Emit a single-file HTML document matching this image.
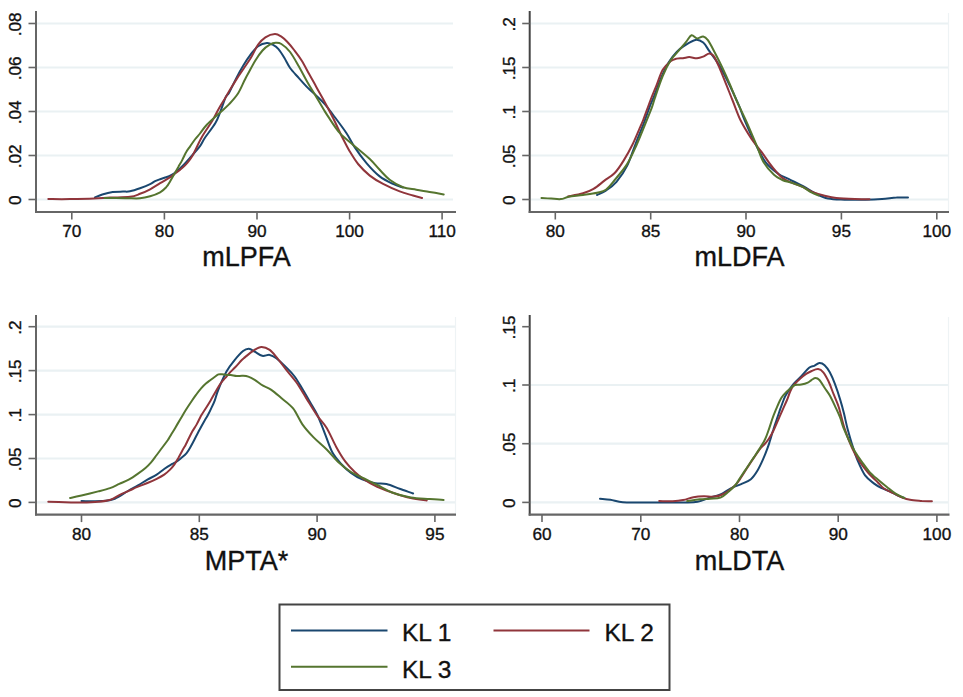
<!DOCTYPE html>
<html><head><meta charset="utf-8"><title>Density plots</title>
<style>
html,body{margin:0;padding:0;background:#fff;}
body{width:963px;height:697px;overflow:hidden;}
svg{display:block;font-family:"Liberation Sans", sans-serif;fill:#000;}
svg text{fill:#111;stroke:#111;stroke-width:0.35px;}
</style></head><body>
<svg width="963" height="697" viewBox="0 0 963 697">
<rect width="963" height="697" fill="#fff"/>
<line x1="37.0" y1="23.5" x2="453.0" y2="23.5" stroke="#eaf1f3" stroke-width="2.2"/>
<line x1="37.0" y1="67.5" x2="453.0" y2="67.5" stroke="#eaf1f3" stroke-width="2.2"/>
<line x1="37.0" y1="111.5" x2="453.0" y2="111.5" stroke="#eaf1f3" stroke-width="2.2"/>
<line x1="37.0" y1="155.5" x2="453.0" y2="155.5" stroke="#eaf1f3" stroke-width="2.2"/>
<line x1="37.0" y1="199.5" x2="453.0" y2="199.5" stroke="#eaf1f3" stroke-width="2.2"/>
<path d="M95.0,197.5 C96.2,197.0 99.3,195.4 102.3,194.5 C105.2,193.6 109.2,192.5 112.7,192.0 C116.2,191.5 120.1,191.7 123.0,191.6 C125.9,191.5 127.2,191.9 130.0,191.3 C132.8,190.8 136.7,189.5 140.0,188.3 C143.3,187.1 147.6,185.4 150.1,184.2 C152.6,183.0 153.4,182.0 155.1,181.2 C156.8,180.4 158.2,179.9 160.1,179.2 C161.9,178.5 164.5,177.8 166.2,177.2 C167.9,176.6 168.9,176.4 170.2,175.7 C171.5,175.0 172.5,174.4 174.2,173.2 C175.9,171.9 178.2,170.0 180.2,168.2 C182.2,166.3 184.2,164.3 186.2,162.1 C188.2,159.9 190.0,157.8 192.3,155.1 C194.6,152.4 197.9,149.0 200.0,146.1 C202.1,143.2 202.5,141.3 205.1,137.5 C207.7,133.7 212.8,127.4 215.4,123.0 C218.0,118.6 218.9,115.3 220.6,111.0 C222.3,106.7 224.3,100.2 225.7,97.2 C227.1,94.2 227.3,95.9 229.1,92.7 C230.9,89.5 233.9,82.7 236.3,78.1 C238.7,73.5 241.2,69.1 243.6,65.1 C246.0,61.1 248.5,57.4 250.9,54.2 C253.3,51.1 255.4,48.1 258.1,46.2 C260.8,44.3 264.5,43.2 266.9,43.0 C269.3,42.8 270.8,43.7 272.7,44.7 C274.6,45.7 276.6,46.9 278.5,49.1 C280.4,51.3 282.4,54.6 284.3,57.8 C286.2,60.9 287.7,64.6 290.1,68.0 C292.5,71.4 296.0,74.8 298.9,78.1 C301.8,81.4 304.7,84.7 307.6,87.6 C310.5,90.5 313.4,92.8 316.3,95.6 C319.2,98.4 322.2,101.1 325.0,104.3 C327.8,107.5 329.6,110.2 333.2,115.0 C336.8,119.8 342.9,127.8 346.5,133.2 C350.1,138.6 351.5,142.4 354.8,147.4 C358.1,152.4 362.4,158.3 366.5,163.1 C370.6,167.9 375.3,172.9 379.7,176.4 C384.1,179.9 389.1,182.1 393.0,183.9 C396.9,185.8 401.3,186.9 403.0,187.5" fill="none" stroke="#1a476f" stroke-width="2.0" stroke-linejoin="round" stroke-linecap="round"/>
<path d="M48.3,199.1 C51.9,199.1 62.4,199.2 70.0,199.1 C77.6,199.0 87.3,198.8 94.0,198.5 C100.7,198.2 104.0,197.9 110.0,197.6 C116.0,197.3 125.0,197.4 130.0,196.8 C135.0,196.2 136.7,195.1 140.0,193.8 C143.3,192.6 146.8,191.1 150.1,189.3 C153.4,187.5 156.8,185.2 160.1,183.2 C163.4,181.2 167.8,178.7 170.2,177.2 C172.5,175.7 172.5,175.4 174.2,174.2 C175.9,172.9 178.2,171.4 180.2,169.7 C182.2,168.0 184.2,166.4 186.2,164.1 C188.2,161.8 189.7,160.4 192.3,156.0 C194.9,151.6 198.3,143.3 201.6,137.5 C204.9,131.7 209.1,126.1 212.0,121.3 C214.9,116.5 216.6,112.4 218.9,108.4 C221.2,104.4 224.0,100.1 225.7,97.2 C227.4,94.3 227.3,94.1 229.1,91.2 C230.9,88.3 233.9,83.3 236.3,79.6 C238.7,75.8 241.2,72.3 243.6,68.7 C246.0,65.1 248.5,61.8 250.9,57.8 C253.3,53.8 255.7,48.1 258.1,44.7 C260.5,41.3 262.6,39.2 265.4,37.4 C268.2,35.6 272.2,34.2 274.9,34.1 C277.6,34.0 279.3,35.4 281.4,36.7 C283.4,38.0 285.0,39.5 287.2,41.8 C289.4,44.1 292.1,47.4 294.5,50.5 C296.9,53.6 299.4,56.8 301.8,60.7 C304.2,64.6 306.6,69.4 309.0,73.8 C311.4,78.2 313.9,82.5 316.3,86.9 C318.7,91.3 320.8,94.8 323.6,100.0 C326.4,105.2 330.2,112.3 333.2,118.3 C336.2,124.2 338.7,130.2 341.5,135.7 C344.3,141.2 347.0,146.8 349.8,151.5 C352.6,156.2 354.8,160.0 358.1,164.0 C361.4,168.0 365.6,172.3 369.8,175.6 C374.0,178.9 378.1,181.3 383.1,183.9 C388.1,186.5 394.7,189.5 399.7,191.4 C404.7,193.3 409.3,194.4 413.0,195.5 C416.7,196.6 420.6,197.6 422.1,198.0" fill="none" stroke="#90353b" stroke-width="2.0" stroke-linejoin="round" stroke-linecap="round"/>
<path d="M104.4,198.0 C107.8,198.0 119.1,198.1 125.0,198.2 C130.9,198.2 135.8,198.6 140.0,198.3 C144.2,198.0 146.8,197.3 150.1,196.3 C153.4,195.3 157.4,193.8 160.1,192.3 C162.8,190.8 164.5,189.0 166.2,187.2 C167.9,185.3 168.9,183.4 170.2,181.2 C171.5,179.0 172.9,176.5 174.2,174.2 C175.5,171.9 176.9,169.5 178.2,167.2 C179.5,164.8 180.9,162.6 182.2,160.1 C183.5,157.6 184.8,154.4 186.2,152.1 C187.5,149.8 188.8,148.3 190.3,146.1 C191.8,143.9 193.7,141.1 195.3,139.0 C196.9,136.9 198.1,135.9 200.0,133.5 C201.9,131.1 203.7,128.1 206.8,124.8 C210.0,121.5 215.2,117.0 218.9,113.6 C222.6,110.1 226.0,107.4 229.2,104.1 C232.3,100.8 235.2,97.8 237.8,93.8 C240.4,89.8 243.0,83.3 244.7,80.0 C246.4,76.7 246.2,77.0 248.0,73.8 C249.8,70.6 252.8,64.6 255.2,60.7 C257.6,56.8 260.1,53.2 262.5,50.5 C264.9,47.8 267.6,46.0 269.8,44.7 C272.0,43.4 273.7,42.9 275.6,42.8 C277.5,42.7 279.0,42.5 281.4,44.0 C283.8,45.5 287.2,48.2 290.1,52.0 C293.0,55.8 296.0,61.4 298.9,66.5 C301.8,71.6 304.7,77.4 307.6,82.5 C310.5,87.6 313.6,92.4 316.3,97.0 C319.0,101.6 322.0,106.7 324.0,110.0 C326.0,113.3 325.6,112.7 328.2,116.6 C330.8,120.5 335.7,128.5 339.9,133.2 C344.1,137.9 348.2,140.6 353.2,144.9 C358.2,149.2 365.4,154.8 369.8,159.0 C374.2,163.2 376.4,166.4 379.7,169.8 C383.0,173.2 385.8,176.8 389.7,179.7 C393.6,182.6 398.6,185.5 403.0,187.2 C407.4,188.9 411.9,188.9 416.3,189.7 C420.7,190.5 425.0,191.1 429.6,191.9 C434.2,192.7 441.4,194.0 443.7,194.4" fill="none" stroke="#55752f" stroke-width="2.0" stroke-linejoin="round" stroke-linecap="round"/>
<line x1="36.0" y1="11.0" x2="36.0" y2="213.0" stroke="#666" stroke-width="2"/>
<line x1="35.0" y1="212.0" x2="456.0" y2="212.0" stroke="#666" stroke-width="2.2"/>
<line x1="28.5" y1="23.5" x2="36.0" y2="23.5" stroke="#666" stroke-width="1.6"/>
<text x="0" y="0" transform="translate(21.2,24.3) rotate(-90)" text-anchor="middle" font-size="17.2">.08</text>
<line x1="28.5" y1="67.5" x2="36.0" y2="67.5" stroke="#666" stroke-width="1.6"/>
<text x="0" y="0" transform="translate(21.2,68.3) rotate(-90)" text-anchor="middle" font-size="17.2">.06</text>
<line x1="28.5" y1="111.5" x2="36.0" y2="111.5" stroke="#666" stroke-width="1.6"/>
<text x="0" y="0" transform="translate(21.2,112.3) rotate(-90)" text-anchor="middle" font-size="17.2">.04</text>
<line x1="28.5" y1="155.5" x2="36.0" y2="155.5" stroke="#666" stroke-width="1.6"/>
<text x="0" y="0" transform="translate(21.2,156.3) rotate(-90)" text-anchor="middle" font-size="17.2">.02</text>
<line x1="28.5" y1="199.5" x2="36.0" y2="199.5" stroke="#666" stroke-width="1.6"/>
<text x="0" y="0" transform="translate(21.2,200.3) rotate(-90)" text-anchor="middle" font-size="17.2">0</text>
<line x1="71.8" y1="212.0" x2="71.8" y2="219.5" stroke="#666" stroke-width="1.6"/>
<text x="71.8" y="237.4" text-anchor="middle" font-size="17.2">70</text>
<line x1="164.4" y1="212.0" x2="164.4" y2="219.5" stroke="#666" stroke-width="1.6"/>
<text x="164.4" y="237.4" text-anchor="middle" font-size="17.2">80</text>
<line x1="257.0" y1="212.0" x2="257.0" y2="219.5" stroke="#666" stroke-width="1.6"/>
<text x="257.0" y="237.4" text-anchor="middle" font-size="17.2">90</text>
<line x1="349.6" y1="212.0" x2="349.6" y2="219.5" stroke="#666" stroke-width="1.6"/>
<text x="349.6" y="237.4" text-anchor="middle" font-size="17.2">100</text>
<line x1="442.1" y1="212.0" x2="442.1" y2="219.5" stroke="#666" stroke-width="1.6"/>
<text x="442.1" y="237.4" text-anchor="middle" font-size="17.2">110</text>
<text x="246.5" y="266.3" text-anchor="middle" font-size="27.0">mLPFA</text>
<line x1="530.7" y1="23.5" x2="948.0" y2="23.5" stroke="#eaf1f3" stroke-width="2.2"/>
<line x1="530.7" y1="67.5" x2="948.0" y2="67.5" stroke="#eaf1f3" stroke-width="2.2"/>
<line x1="530.7" y1="111.5" x2="948.0" y2="111.5" stroke="#eaf1f3" stroke-width="2.2"/>
<line x1="530.7" y1="155.5" x2="948.0" y2="155.5" stroke="#eaf1f3" stroke-width="2.2"/>
<line x1="530.7" y1="199.5" x2="948.0" y2="199.5" stroke="#eaf1f3" stroke-width="2.2"/>
<line x1="948.5" y1="13.0" x2="948.5" y2="211.0" stroke="#eef3f5" stroke-width="1.2"/>
<path d="M597.1,195.0 C598.6,194.3 602.7,192.8 605.9,190.6 C609.1,188.4 613.0,185.9 616.5,181.8 C620.0,177.7 623.9,172.4 627.1,165.9 C630.3,159.4 633.2,149.8 635.9,143.0 C638.5,136.2 640.6,131.5 643.0,125.3 C645.4,119.1 648.3,110.5 650.0,105.9 C651.7,101.3 651.5,102.6 653.4,97.9 C655.3,93.2 658.6,83.6 661.2,77.6 C663.8,71.6 666.3,66.4 668.9,62.1 C671.5,57.8 674.1,54.6 676.7,51.9 C679.3,49.2 681.4,47.7 684.5,45.7 C687.6,43.7 692.3,40.4 695.4,39.9 C698.5,39.4 700.9,40.7 703.2,42.6 C705.5,44.5 707.1,48.0 709.4,51.2 C711.7,54.5 714.9,58.5 717.2,62.1 C719.6,65.7 721.2,68.6 723.5,73.0 C725.8,77.4 728.6,83.0 731.2,88.5 C733.8,94.0 736.7,100.3 739.0,105.7 C741.3,111.1 742.2,114.5 744.9,120.8 C747.6,127.1 751.8,136.7 755.3,143.6 C758.8,150.5 761.9,157.3 765.7,162.3 C769.5,167.3 774.4,170.9 778.2,173.7 C782.0,176.5 784.4,176.8 788.5,178.9 C792.6,181.0 798.6,183.8 803.1,186.2 C807.6,188.6 811.4,191.4 815.5,193.5 C819.6,195.6 823.1,197.6 828.0,198.6 C832.9,199.6 838.4,199.5 844.6,199.7 C850.8,199.9 859.2,199.8 865.4,199.7 C871.6,199.6 876.8,199.4 882.0,199.1 C887.2,198.8 892.2,197.8 896.5,197.6 C900.8,197.3 906.1,197.6 908.0,197.6" fill="none" stroke="#1a476f" stroke-width="2.0" stroke-linejoin="round" stroke-linecap="round"/>
<path d="M568.0,196.4 C570.5,195.9 578.8,194.6 583.0,193.3 C587.2,192.1 590.0,191.0 593.5,188.9 C597.0,186.8 600.6,183.6 604.1,180.9 C607.6,178.2 611.5,176.4 614.7,173.0 C618.0,169.6 620.7,165.3 623.6,160.6 C626.5,155.9 629.8,150.0 632.4,144.7 C635.0,139.4 637.6,132.9 639.4,128.8 C641.2,124.7 641.4,124.6 643.2,120.0 C645.0,115.4 648.0,106.8 650.2,101.0 C652.4,95.2 654.4,90.6 656.5,85.4 C658.6,80.2 660.4,73.8 662.7,69.8 C665.0,65.8 668.2,63.2 670.5,61.3 C672.8,59.4 674.6,59.1 676.7,58.6 C678.8,58.1 680.9,58.5 683.0,58.2 C685.1,58.0 686.9,57.1 689.2,57.1 C691.5,57.1 694.7,58.3 697.0,58.2 C699.3,58.1 701.1,57.4 703.2,56.6 C705.3,55.8 707.6,53.5 709.4,53.5 C711.2,53.5 712.3,53.9 714.1,56.6 C715.9,59.3 718.2,65.0 720.3,69.8 C722.4,74.6 724.5,80.2 726.6,85.4 C728.7,90.6 730.4,95.1 732.8,101.0 C735.2,106.9 737.7,114.6 740.8,120.8 C743.9,127.0 747.8,133.2 751.2,138.4 C754.7,143.6 758.0,147.2 761.5,151.9 C765.0,156.6 768.4,162.2 771.9,166.5 C775.4,170.8 778.8,175.1 782.3,177.9 C785.8,180.7 789.2,181.6 792.7,183.1 C796.2,184.6 799.6,185.6 803.1,187.2 C806.6,188.8 810.0,191.0 813.5,192.4 C817.0,193.8 820.0,194.6 823.8,195.5 C827.6,196.4 831.1,197.4 836.3,198.0 C841.5,198.6 849.5,198.9 855.0,199.1 C860.5,199.3 867.1,199.3 869.5,199.3" fill="none" stroke="#90353b" stroke-width="2.0" stroke-linejoin="round" stroke-linecap="round"/>
<path d="M541.5,198.0 C543.1,198.1 548.0,198.4 551.2,198.6 C554.4,198.8 558.0,199.4 560.9,199.1 C563.8,198.8 565.1,197.5 568.8,196.8 C572.5,196.1 578.3,195.7 583.0,195.0 C587.7,194.3 593.3,193.6 597.1,192.7 C600.9,191.8 603.0,191.8 605.9,189.7 C608.8,187.6 611.2,184.3 614.7,180.0 C618.2,175.7 623.6,169.7 627.1,164.1 C630.6,158.5 633.0,153.0 635.9,146.5 C638.8,140.0 642.1,131.8 644.7,125.3 C647.4,118.8 650.1,112.3 651.8,107.7 C653.5,103.1 653.1,103.2 654.9,97.9 C656.7,92.6 660.1,82.3 662.7,76.1 C665.3,69.9 667.9,64.7 670.5,60.5 C673.1,56.4 675.7,54.3 678.3,51.2 C680.9,48.1 683.9,44.4 686.1,41.8 C688.3,39.1 689.7,35.9 691.5,35.3 C693.3,34.7 695.0,38.2 697.0,38.4 C699.0,38.6 701.4,36.1 703.2,36.4 C705.0,36.7 706.1,37.7 707.9,40.2 C709.7,42.7 711.8,46.8 714.1,51.2 C716.4,55.6 719.3,61.2 721.9,66.7 C724.5,72.2 727.1,77.9 729.7,83.9 C732.3,89.9 734.6,96.1 737.5,102.6 C740.4,109.1 743.9,115.8 747.0,122.8 C750.1,129.8 753.5,138.0 756.3,144.6 C759.1,151.2 760.6,157.3 763.6,162.3 C766.6,167.3 770.9,171.9 774.0,174.8 C777.1,177.8 779.2,178.6 782.3,180.0 C785.4,181.4 789.2,181.9 792.7,183.1 C796.2,184.3 800.0,185.6 803.1,187.2 C806.2,188.8 808.8,191.0 811.4,192.4 C814.0,193.8 817.4,195.0 818.6,195.5" fill="none" stroke="#55752f" stroke-width="2.0" stroke-linejoin="round" stroke-linecap="round"/>
<line x1="529.7" y1="11.0" x2="529.7" y2="213.0" stroke="#444" stroke-width="2"/>
<line x1="528.7" y1="212.0" x2="949.0" y2="212.0" stroke="#666" stroke-width="2.2"/>
<line x1="522.2" y1="23.5" x2="529.7" y2="23.5" stroke="#666" stroke-width="1.6"/>
<text x="0" y="0" transform="translate(514.9,24.3) rotate(-90)" text-anchor="middle" font-size="17.2">.2</text>
<line x1="522.2" y1="67.5" x2="529.7" y2="67.5" stroke="#666" stroke-width="1.6"/>
<text x="0" y="0" transform="translate(514.9,68.3) rotate(-90)" text-anchor="middle" font-size="17.2">.15</text>
<line x1="522.2" y1="111.5" x2="529.7" y2="111.5" stroke="#666" stroke-width="1.6"/>
<text x="0" y="0" transform="translate(514.9,112.3) rotate(-90)" text-anchor="middle" font-size="17.2">.1</text>
<line x1="522.2" y1="155.5" x2="529.7" y2="155.5" stroke="#666" stroke-width="1.6"/>
<text x="0" y="0" transform="translate(514.9,156.3) rotate(-90)" text-anchor="middle" font-size="17.2">.05</text>
<line x1="522.2" y1="199.5" x2="529.7" y2="199.5" stroke="#666" stroke-width="1.6"/>
<text x="0" y="0" transform="translate(514.9,200.3) rotate(-90)" text-anchor="middle" font-size="17.2">0</text>
<line x1="555.3" y1="212.0" x2="555.3" y2="219.5" stroke="#666" stroke-width="1.6"/>
<text x="555.3" y="237.4" text-anchor="middle" font-size="17.2">80</text>
<line x1="650.7" y1="212.0" x2="650.7" y2="219.5" stroke="#666" stroke-width="1.6"/>
<text x="650.7" y="237.4" text-anchor="middle" font-size="17.2">85</text>
<line x1="746.0" y1="212.0" x2="746.0" y2="219.5" stroke="#666" stroke-width="1.6"/>
<text x="746.0" y="237.4" text-anchor="middle" font-size="17.2">90</text>
<line x1="841.4" y1="212.0" x2="841.4" y2="219.5" stroke="#666" stroke-width="1.6"/>
<text x="841.4" y="237.4" text-anchor="middle" font-size="17.2">95</text>
<line x1="936.8" y1="212.0" x2="936.8" y2="219.5" stroke="#666" stroke-width="1.6"/>
<text x="936.8" y="237.4" text-anchor="middle" font-size="17.2">100</text>
<text x="739.5" y="266.3" text-anchor="middle" font-size="27.0">mLDFA</text>
<line x1="37.0" y1="326.7" x2="455.0" y2="326.7" stroke="#eaf1f3" stroke-width="2.2"/>
<line x1="37.0" y1="370.6" x2="455.0" y2="370.6" stroke="#eaf1f3" stroke-width="2.2"/>
<line x1="37.0" y1="414.6" x2="455.0" y2="414.6" stroke="#eaf1f3" stroke-width="2.2"/>
<line x1="37.0" y1="458.5" x2="455.0" y2="458.5" stroke="#eaf1f3" stroke-width="2.2"/>
<line x1="37.0" y1="502.4" x2="455.0" y2="502.4" stroke="#eaf1f3" stroke-width="2.2"/>
<line x1="455.5" y1="317.0" x2="455.5" y2="513.6" stroke="#eef3f5" stroke-width="1.2"/>
<path d="M81.5,501.1 C85.0,501.1 96.8,501.5 102.3,501.1 C107.8,500.7 110.4,500.5 114.8,498.7 C119.2,496.9 124.8,492.7 128.7,490.5 C132.6,488.3 134.9,487.1 138.0,485.3 C141.1,483.5 144.3,481.5 147.4,479.7 C150.5,477.9 153.9,476.4 156.7,474.6 C159.5,472.8 161.9,470.6 164.2,469.0 C166.5,467.4 168.8,465.9 170.7,464.8 C172.6,463.7 173.7,463.5 175.4,462.4 C177.1,461.3 179.1,459.8 181.0,458.2 C182.9,456.6 185.0,455.0 186.6,453.1 C188.2,451.2 189.2,449.3 190.5,447.0 C191.8,444.7 192.9,442.6 194.5,439.5 C196.1,436.4 198.4,431.8 200.1,428.7 C201.8,425.6 203.1,423.3 204.4,421.0 C205.7,418.7 206.8,417.1 207.9,415.0 C209.1,412.9 210.2,410.6 211.3,408.1 C212.5,405.7 213.7,403.3 214.8,400.3 C216.0,397.3 216.2,394.8 218.2,390.0 C220.1,385.2 223.7,376.5 226.5,371.5 C229.3,366.5 232.0,363.3 234.8,359.9 C237.6,356.5 240.8,353.0 243.1,351.1 C245.4,349.2 247.0,348.7 248.9,348.8 C250.8,348.9 252.5,350.4 254.7,351.6 C256.9,352.8 259.7,355.2 262.2,355.8 C264.7,356.4 267.3,354.5 269.7,354.9 C272.1,355.3 273.5,356.1 276.3,358.2 C279.1,360.3 283.2,364.3 286.3,367.4 C289.4,370.4 291.8,372.8 294.6,376.5 C297.4,380.2 300.3,385.6 302.9,389.8 C305.5,394.1 307.6,397.8 310.0,402.0 C312.4,406.2 314.9,409.7 317.4,415.0 C319.9,420.3 322.4,427.4 324.9,433.6 C327.4,439.8 329.5,447.2 332.3,452.3 C335.1,457.4 338.6,461.1 341.7,464.5 C344.8,467.9 347.6,470.4 351.0,472.9 C354.4,475.4 358.1,477.7 362.2,479.4 C366.2,481.1 371.2,482.4 375.3,483.2 C379.4,484.0 382.4,483.2 386.5,484.1 C390.6,485.0 395.2,487.2 399.6,488.8 C404.0,490.4 410.9,492.7 413.1,493.5" fill="none" stroke="#1a476f" stroke-width="2.0" stroke-linejoin="round" stroke-linecap="round"/>
<path d="M48.3,501.8 C51.1,501.9 59.4,502.1 64.9,502.2 C70.4,502.3 76.0,502.7 81.5,502.6 C87.0,502.5 93.4,502.3 98.2,501.8 C103.0,501.3 107.1,500.8 110.6,499.7 C114.1,498.6 116.3,496.6 119.3,495.1 C122.3,493.6 125.6,492.3 128.7,490.9 C131.8,489.5 134.9,488.0 138.0,486.7 C141.1,485.4 144.3,484.3 147.4,483.0 C150.5,481.7 153.9,480.2 156.7,478.8 C159.5,477.4 162.0,476.1 164.2,474.6 C166.4,473.1 168.1,471.6 169.8,469.9 C171.5,468.2 173.1,466.2 174.5,464.3 C175.9,462.4 176.9,460.4 178.2,458.2 C179.4,456.0 180.8,453.4 182.0,451.2 C183.2,448.9 184.7,446.6 185.7,444.7 C186.7,442.8 186.9,442.2 188.0,440.0 C189.1,437.8 191.0,433.9 192.4,431.3 C193.8,428.7 195.3,427.0 196.7,424.4 C198.1,421.8 199.7,418.2 201.0,415.8 C202.3,413.4 203.1,412.5 204.7,410.0 C206.3,407.5 208.6,403.9 210.5,400.7 C212.4,397.4 214.6,393.4 216.3,390.5 C218.0,387.6 219.2,385.4 220.7,383.3 C222.2,381.2 223.6,379.9 225.1,378.2 C226.6,376.5 227.7,374.9 229.4,373.1 C231.1,371.3 233.1,369.5 235.2,367.3 C237.3,365.1 240.2,361.6 241.8,360.0 C243.4,358.4 242.9,358.9 244.8,357.4 C246.7,355.9 250.3,352.6 253.1,350.8 C255.9,349.1 258.6,347.0 261.4,346.9 C264.2,346.8 266.9,347.9 269.7,349.9 C272.5,351.9 275.2,355.8 278.0,359.1 C280.8,362.4 283.2,366.0 286.3,369.9 C289.4,373.8 293.0,377.6 296.3,382.3 C299.6,387.0 302.7,392.5 306.2,398.1 C309.7,403.7 314.0,410.9 317.4,415.9 C320.8,420.9 323.6,422.9 326.7,428.0 C329.8,433.1 333.0,441.1 336.1,446.7 C339.2,452.3 342.3,457.5 345.4,461.7 C348.5,465.9 351.7,469.1 354.8,472.0 C357.9,474.9 360.4,476.9 364.1,479.4 C367.8,481.9 372.5,484.7 377.2,486.9 C381.9,489.1 386.5,490.6 392.1,492.5 C397.7,494.4 405.0,496.8 410.8,498.1 C416.6,499.4 424.1,500.0 426.7,500.4" fill="none" stroke="#90353b" stroke-width="2.0" stroke-linejoin="round" stroke-linecap="round"/>
<path d="M70.1,498.0 C72.0,497.6 76.8,496.6 81.5,495.5 C86.2,494.4 93.5,492.6 98.2,491.4 C103.0,490.2 106.5,489.4 110.0,488.1 C113.5,486.9 116.2,485.3 119.3,483.9 C122.4,482.5 125.6,481.4 128.7,479.7 C131.8,478.0 135.2,475.6 138.0,473.6 C140.8,471.7 143.3,469.9 145.5,468.0 C147.7,466.1 149.2,464.6 151.1,462.4 C153.0,460.2 154.8,457.5 156.7,455.0 C158.6,452.5 160.4,450.0 162.3,447.5 C164.2,445.0 166.6,441.8 167.9,440.0 C169.2,438.2 168.8,438.5 170.0,436.5 C171.2,434.5 173.5,430.8 175.2,427.9 C176.9,425.0 178.5,422.3 180.3,419.3 C182.1,416.3 184.0,412.9 185.8,410.0 C187.6,407.1 189.2,404.7 190.9,402.2 C192.6,399.7 194.3,397.2 196.0,394.9 C197.7,392.6 199.4,390.2 201.1,388.3 C202.8,386.4 204.6,384.7 206.2,383.3 C207.8,381.9 209.1,381.1 210.5,380.0 C211.9,378.9 213.6,377.6 214.9,376.7 C216.2,375.8 217.3,374.8 218.5,374.4 C219.7,374.0 220.7,374.2 222.0,374.3 C223.3,374.4 225.0,374.8 226.5,374.9 C228.0,375.0 229.3,374.8 231.0,375.0 C232.7,375.2 234.8,375.9 236.7,376.0 C238.6,376.1 240.6,375.7 242.5,375.8 C244.4,375.9 246.3,375.9 248.3,376.6 C250.3,377.3 252.2,378.3 254.7,379.8 C257.1,381.3 260.2,384.0 263.0,385.7 C265.8,387.4 268.2,387.7 271.3,389.8 C274.4,391.9 277.7,395.0 281.3,398.1 C284.9,401.2 289.6,404.0 293.1,408.4 C296.6,412.8 299.0,419.5 302.4,424.3 C305.8,429.1 309.6,433.2 313.6,437.4 C317.7,441.6 322.6,445.4 326.7,449.5 C330.8,453.6 333.8,457.9 337.9,461.7 C341.9,465.4 346.6,469.2 351.0,472.0 C355.4,474.8 359.7,476.3 364.1,478.5 C368.5,480.7 372.5,482.7 377.2,485.0 C381.9,487.3 386.5,490.4 392.1,492.5 C397.7,494.6 404.6,496.5 410.8,497.6 C417.0,498.7 424.0,498.7 429.5,499.1 C435.0,499.5 441.2,499.9 443.6,500.0" fill="none" stroke="#55752f" stroke-width="2.0" stroke-linejoin="round" stroke-linecap="round"/>
<line x1="36.0" y1="315.0" x2="36.0" y2="515.6" stroke="#666" stroke-width="2"/>
<line x1="35.0" y1="514.6" x2="456.0" y2="514.6" stroke="#666" stroke-width="2.2"/>
<line x1="28.5" y1="326.7" x2="36.0" y2="326.7" stroke="#666" stroke-width="1.6"/>
<text x="0" y="0" transform="translate(21.2,327.5) rotate(-90)" text-anchor="middle" font-size="17.2">.2</text>
<line x1="28.5" y1="370.6" x2="36.0" y2="370.6" stroke="#666" stroke-width="1.6"/>
<text x="0" y="0" transform="translate(21.2,371.4) rotate(-90)" text-anchor="middle" font-size="17.2">.15</text>
<line x1="28.5" y1="414.6" x2="36.0" y2="414.6" stroke="#666" stroke-width="1.6"/>
<text x="0" y="0" transform="translate(21.2,415.4) rotate(-90)" text-anchor="middle" font-size="17.2">.1</text>
<line x1="28.5" y1="458.5" x2="36.0" y2="458.5" stroke="#666" stroke-width="1.6"/>
<text x="0" y="0" transform="translate(21.2,459.3) rotate(-90)" text-anchor="middle" font-size="17.2">.05</text>
<line x1="28.5" y1="502.4" x2="36.0" y2="502.4" stroke="#666" stroke-width="1.6"/>
<text x="0" y="0" transform="translate(21.2,503.2) rotate(-90)" text-anchor="middle" font-size="17.2">0</text>
<line x1="81.5" y1="514.6" x2="81.5" y2="522.1" stroke="#666" stroke-width="1.6"/>
<text x="81.5" y="540.4" text-anchor="middle" font-size="17.2">80</text>
<line x1="199.3" y1="514.6" x2="199.3" y2="522.1" stroke="#666" stroke-width="1.6"/>
<text x="199.3" y="540.4" text-anchor="middle" font-size="17.2">85</text>
<line x1="317.1" y1="514.6" x2="317.1" y2="522.1" stroke="#666" stroke-width="1.6"/>
<text x="317.1" y="540.4" text-anchor="middle" font-size="17.2">90</text>
<line x1="434.9" y1="514.6" x2="434.9" y2="522.1" stroke="#666" stroke-width="1.6"/>
<text x="434.9" y="540.4" text-anchor="middle" font-size="17.2">95</text>
<text x="246.5" y="569.8" text-anchor="middle" font-size="27.0">MPTA*</text>
<line x1="530.7" y1="385.0" x2="948.0" y2="385.0" stroke="#eaf1f3" stroke-width="2.2"/>
<line x1="530.7" y1="443.7" x2="948.0" y2="443.7" stroke="#eaf1f3" stroke-width="2.2"/>
<line x1="530.7" y1="502.4" x2="948.0" y2="502.4" stroke="#eaf1f3" stroke-width="2.2"/>
<line x1="948.5" y1="317.0" x2="948.5" y2="513.6" stroke="#eef3f5" stroke-width="1.2"/>
<path d="M600.0,498.7 C601.7,498.9 606.6,499.1 610.4,499.7 C614.2,500.3 617.6,501.8 622.8,502.2 C628.0,502.6 634.9,502.4 641.5,502.4 C648.1,502.4 655.4,502.4 662.3,502.4 C669.2,502.4 677.2,502.5 683.1,502.4 C689.0,502.3 693.1,502.6 697.6,501.8 C702.1,501.0 706.3,498.8 710.1,497.6 C713.9,496.4 717.0,496.1 720.5,494.5 C724.0,492.9 727.3,490.0 730.8,488.3 C734.2,486.6 737.9,485.6 741.2,484.1 C744.6,482.6 748.2,481.4 750.9,479.2 C753.6,477.0 755.2,474.4 757.2,471.1 C759.2,467.9 761.2,463.5 762.9,459.7 C764.6,455.9 766.4,451.3 767.5,448.2 C768.6,445.1 768.8,444.4 769.8,441.3 C770.8,438.2 772.1,433.4 773.3,429.8 C774.4,426.2 775.6,422.9 776.7,419.5 C777.9,416.1 779.1,412.4 780.2,409.2 C781.4,405.9 782.6,402.5 783.6,400.0 C784.6,397.5 784.8,396.7 786.5,394.0 C788.2,391.3 791.1,386.9 793.6,383.9 C796.1,380.9 798.7,378.9 801.3,376.2 C803.9,373.5 807.0,369.5 809.1,367.8 C811.2,366.1 812.5,366.6 814.2,365.8 C815.9,365.0 817.7,363.1 819.4,363.0 C821.1,362.9 822.9,363.6 824.6,365.2 C826.3,366.8 828.1,369.2 829.8,372.3 C831.5,375.4 833.2,379.4 834.9,383.9 C836.6,388.4 838.6,394.4 840.1,399.4 C841.6,404.3 842.8,408.7 844.0,413.6 C845.2,418.5 846.1,423.4 847.6,428.9 C849.1,434.3 851.0,441.0 852.7,446.3 C854.4,451.6 855.7,456.0 857.8,460.9 C859.9,465.8 862.4,471.6 865.1,475.4 C867.8,479.1 871.1,481.3 873.8,483.4 C876.5,485.5 878.4,486.5 881.1,487.8 C883.8,489.1 886.9,490.1 889.8,491.4 C892.7,492.7 896.1,494.7 898.5,495.8 C900.9,496.9 903.3,497.6 904.3,498.0" fill="none" stroke="#1a476f" stroke-width="2.0" stroke-linejoin="round" stroke-linecap="round"/>
<path d="M659.2,501.1 C661.5,501.1 668.7,501.5 672.7,501.3 C676.7,501.1 679.6,500.8 683.1,500.1 C686.6,499.4 690.0,497.9 693.5,497.2 C697.0,496.5 700.3,496.3 703.8,496.2 C707.2,496.1 710.7,497.1 714.2,496.6 C717.7,496.2 721.1,495.4 724.6,493.5 C728.1,491.6 732.4,487.9 735.0,485.5 C737.6,483.1 738.0,482.1 740.0,479.2 C742.0,476.3 744.6,471.9 746.9,468.3 C749.2,464.8 751.5,461.2 753.8,457.9 C756.1,454.5 758.9,450.4 760.6,448.2 C762.3,446.0 762.8,446.2 764.1,444.7 C765.5,443.2 767.2,441.3 768.7,439.0 C770.2,436.7 771.8,434.1 773.3,431.0 C774.8,427.9 776.4,424.1 777.9,420.6 C779.4,417.2 780.9,413.7 782.4,410.3 C783.9,406.9 785.7,403.1 787.0,400.0 C788.3,396.9 788.9,394.5 790.0,392.0 C791.1,389.5 791.9,387.4 793.6,385.2 C795.3,383.0 797.9,380.7 800.0,378.8 C802.1,376.9 804.5,374.9 806.5,373.6 C808.5,372.3 809.8,371.8 811.7,371.0 C813.6,370.2 816.2,368.9 818.1,369.1 C820.0,369.3 821.6,370.3 823.3,372.3 C825.0,374.3 826.8,377.7 828.5,381.3 C830.2,384.9 831.9,389.9 833.6,394.2 C835.3,398.5 836.9,401.4 838.8,407.2 C840.6,413.0 842.5,422.1 844.7,428.9 C846.9,435.7 849.6,442.5 852.0,447.8 C854.4,453.1 856.5,456.8 859.2,460.9 C861.9,465.0 864.9,468.9 868.0,472.5 C871.1,476.1 875.4,480.0 878.1,482.7 C880.8,485.4 881.6,486.8 884.0,488.5 C886.4,490.2 889.6,491.3 892.7,492.9 C895.9,494.5 900.0,496.8 902.9,497.9 C905.8,499.0 907.0,499.3 910.1,499.8 C913.2,500.3 918.2,500.6 921.8,500.9 C925.4,501.1 930.2,501.2 931.9,501.3" fill="none" stroke="#90353b" stroke-width="2.0" stroke-linejoin="round" stroke-linecap="round"/>
<path d="M687.2,501.1 C689.3,500.8 695.9,499.7 699.7,499.3 C703.5,498.9 706.6,499.0 710.1,498.7 C713.6,498.4 717.4,498.8 720.5,497.6 C723.6,496.4 726.4,493.4 728.8,491.4 C731.2,489.4 733.1,487.7 735.0,485.5 C736.9,483.3 738.0,481.0 740.0,478.0 C742.0,475.0 744.6,471.1 746.9,467.7 C749.2,464.3 751.5,460.8 753.8,457.4 C756.1,453.9 758.7,450.1 760.6,447.0 C762.5,443.9 763.9,441.9 765.2,439.0 C766.6,436.1 767.6,433.1 768.7,429.8 C769.9,426.6 771.0,422.8 772.1,419.5 C773.2,416.2 774.2,413.6 775.6,410.3 C777.0,407.1 778.9,402.6 780.2,400.0 C781.5,397.4 782.0,396.6 783.6,394.8 C785.2,393.0 787.8,390.7 789.7,389.1 C791.6,387.5 793.0,385.8 794.9,385.0 C796.8,384.2 799.1,385.0 801.3,384.6 C803.4,384.2 806.1,383.4 807.8,382.6 C809.5,381.8 810.4,380.6 811.7,379.8 C813.0,379.1 814.2,378.1 815.5,378.1 C816.8,378.1 817.9,378.4 819.4,380.0 C820.9,381.6 822.9,385.2 824.6,387.8 C826.3,390.4 828.1,392.5 829.8,395.5 C831.5,398.5 833.2,402.2 834.9,405.9 C836.6,409.6 838.7,413.9 840.1,417.5 C841.5,421.1 841.8,423.6 843.3,427.4 C844.8,431.2 847.2,436.5 849.1,440.5 C851.0,444.5 852.7,447.8 854.9,451.4 C857.1,455.0 859.8,458.9 862.2,462.3 C864.6,465.7 866.8,468.9 869.4,471.8 C872.0,474.7 875.2,477.3 878.1,479.8 C881.0,482.3 884.0,484.7 886.9,487.0 C889.8,489.3 892.7,491.8 895.6,493.6 C898.5,495.4 902.8,497.3 904.3,498.0" fill="none" stroke="#55752f" stroke-width="2.0" stroke-linejoin="round" stroke-linecap="round"/>
<line x1="529.7" y1="315.0" x2="529.7" y2="515.6" stroke="#444" stroke-width="2"/>
<line x1="528.7" y1="514.6" x2="949.5" y2="514.6" stroke="#666" stroke-width="2.2"/>
<line x1="522.2" y1="326.7" x2="529.7" y2="326.7" stroke="#666" stroke-width="1.6"/>
<text x="0" y="0" transform="translate(514.9,327.5) rotate(-90)" text-anchor="middle" font-size="17.2">.15</text>
<line x1="522.2" y1="385.0" x2="529.7" y2="385.0" stroke="#666" stroke-width="1.6"/>
<text x="0" y="0" transform="translate(514.9,385.8) rotate(-90)" text-anchor="middle" font-size="17.2">.1</text>
<line x1="522.2" y1="443.7" x2="529.7" y2="443.7" stroke="#666" stroke-width="1.6"/>
<text x="0" y="0" transform="translate(514.9,444.5) rotate(-90)" text-anchor="middle" font-size="17.2">.05</text>
<line x1="522.2" y1="502.4" x2="529.7" y2="502.4" stroke="#666" stroke-width="1.6"/>
<text x="0" y="0" transform="translate(514.9,503.2) rotate(-90)" text-anchor="middle" font-size="17.2">0</text>
<line x1="542.0" y1="514.6" x2="542.0" y2="522.1" stroke="#666" stroke-width="1.6"/>
<text x="542.0" y="540.4" text-anchor="middle" font-size="17.2">60</text>
<line x1="640.8" y1="514.6" x2="640.8" y2="522.1" stroke="#666" stroke-width="1.6"/>
<text x="640.8" y="540.4" text-anchor="middle" font-size="17.2">70</text>
<line x1="739.5" y1="514.6" x2="739.5" y2="522.1" stroke="#666" stroke-width="1.6"/>
<text x="739.5" y="540.4" text-anchor="middle" font-size="17.2">80</text>
<line x1="838.2" y1="514.6" x2="838.2" y2="522.1" stroke="#666" stroke-width="1.6"/>
<text x="838.2" y="540.4" text-anchor="middle" font-size="17.2">90</text>
<line x1="936.9" y1="514.6" x2="936.9" y2="522.1" stroke="#666" stroke-width="1.6"/>
<text x="936.9" y="540.4" text-anchor="middle" font-size="17.2">100</text>
<text x="739.5" y="569.8" text-anchor="middle" font-size="27.0">mLDTA</text>
<rect x="279.5" y="604.5" width="390" height="85.5" fill="#fff" stroke="#444" stroke-width="2"/>
<line x1="291" y1="630.5" x2="387.5" y2="630.5" stroke="#1a476f" stroke-width="2"/>
<line x1="493.5" y1="630.5" x2="589.5" y2="630.5" stroke="#90353b" stroke-width="2"/>
<line x1="291" y1="666.8" x2="387.5" y2="666.8" stroke="#55752f" stroke-width="2"/>
<text x="402" y="641" font-size="24.5">KL 1</text>
<text x="604.5" y="641" font-size="24.5">KL 2</text>
<text x="402" y="677.5" font-size="24.5">KL 3</text>
</svg>
</body></html>
